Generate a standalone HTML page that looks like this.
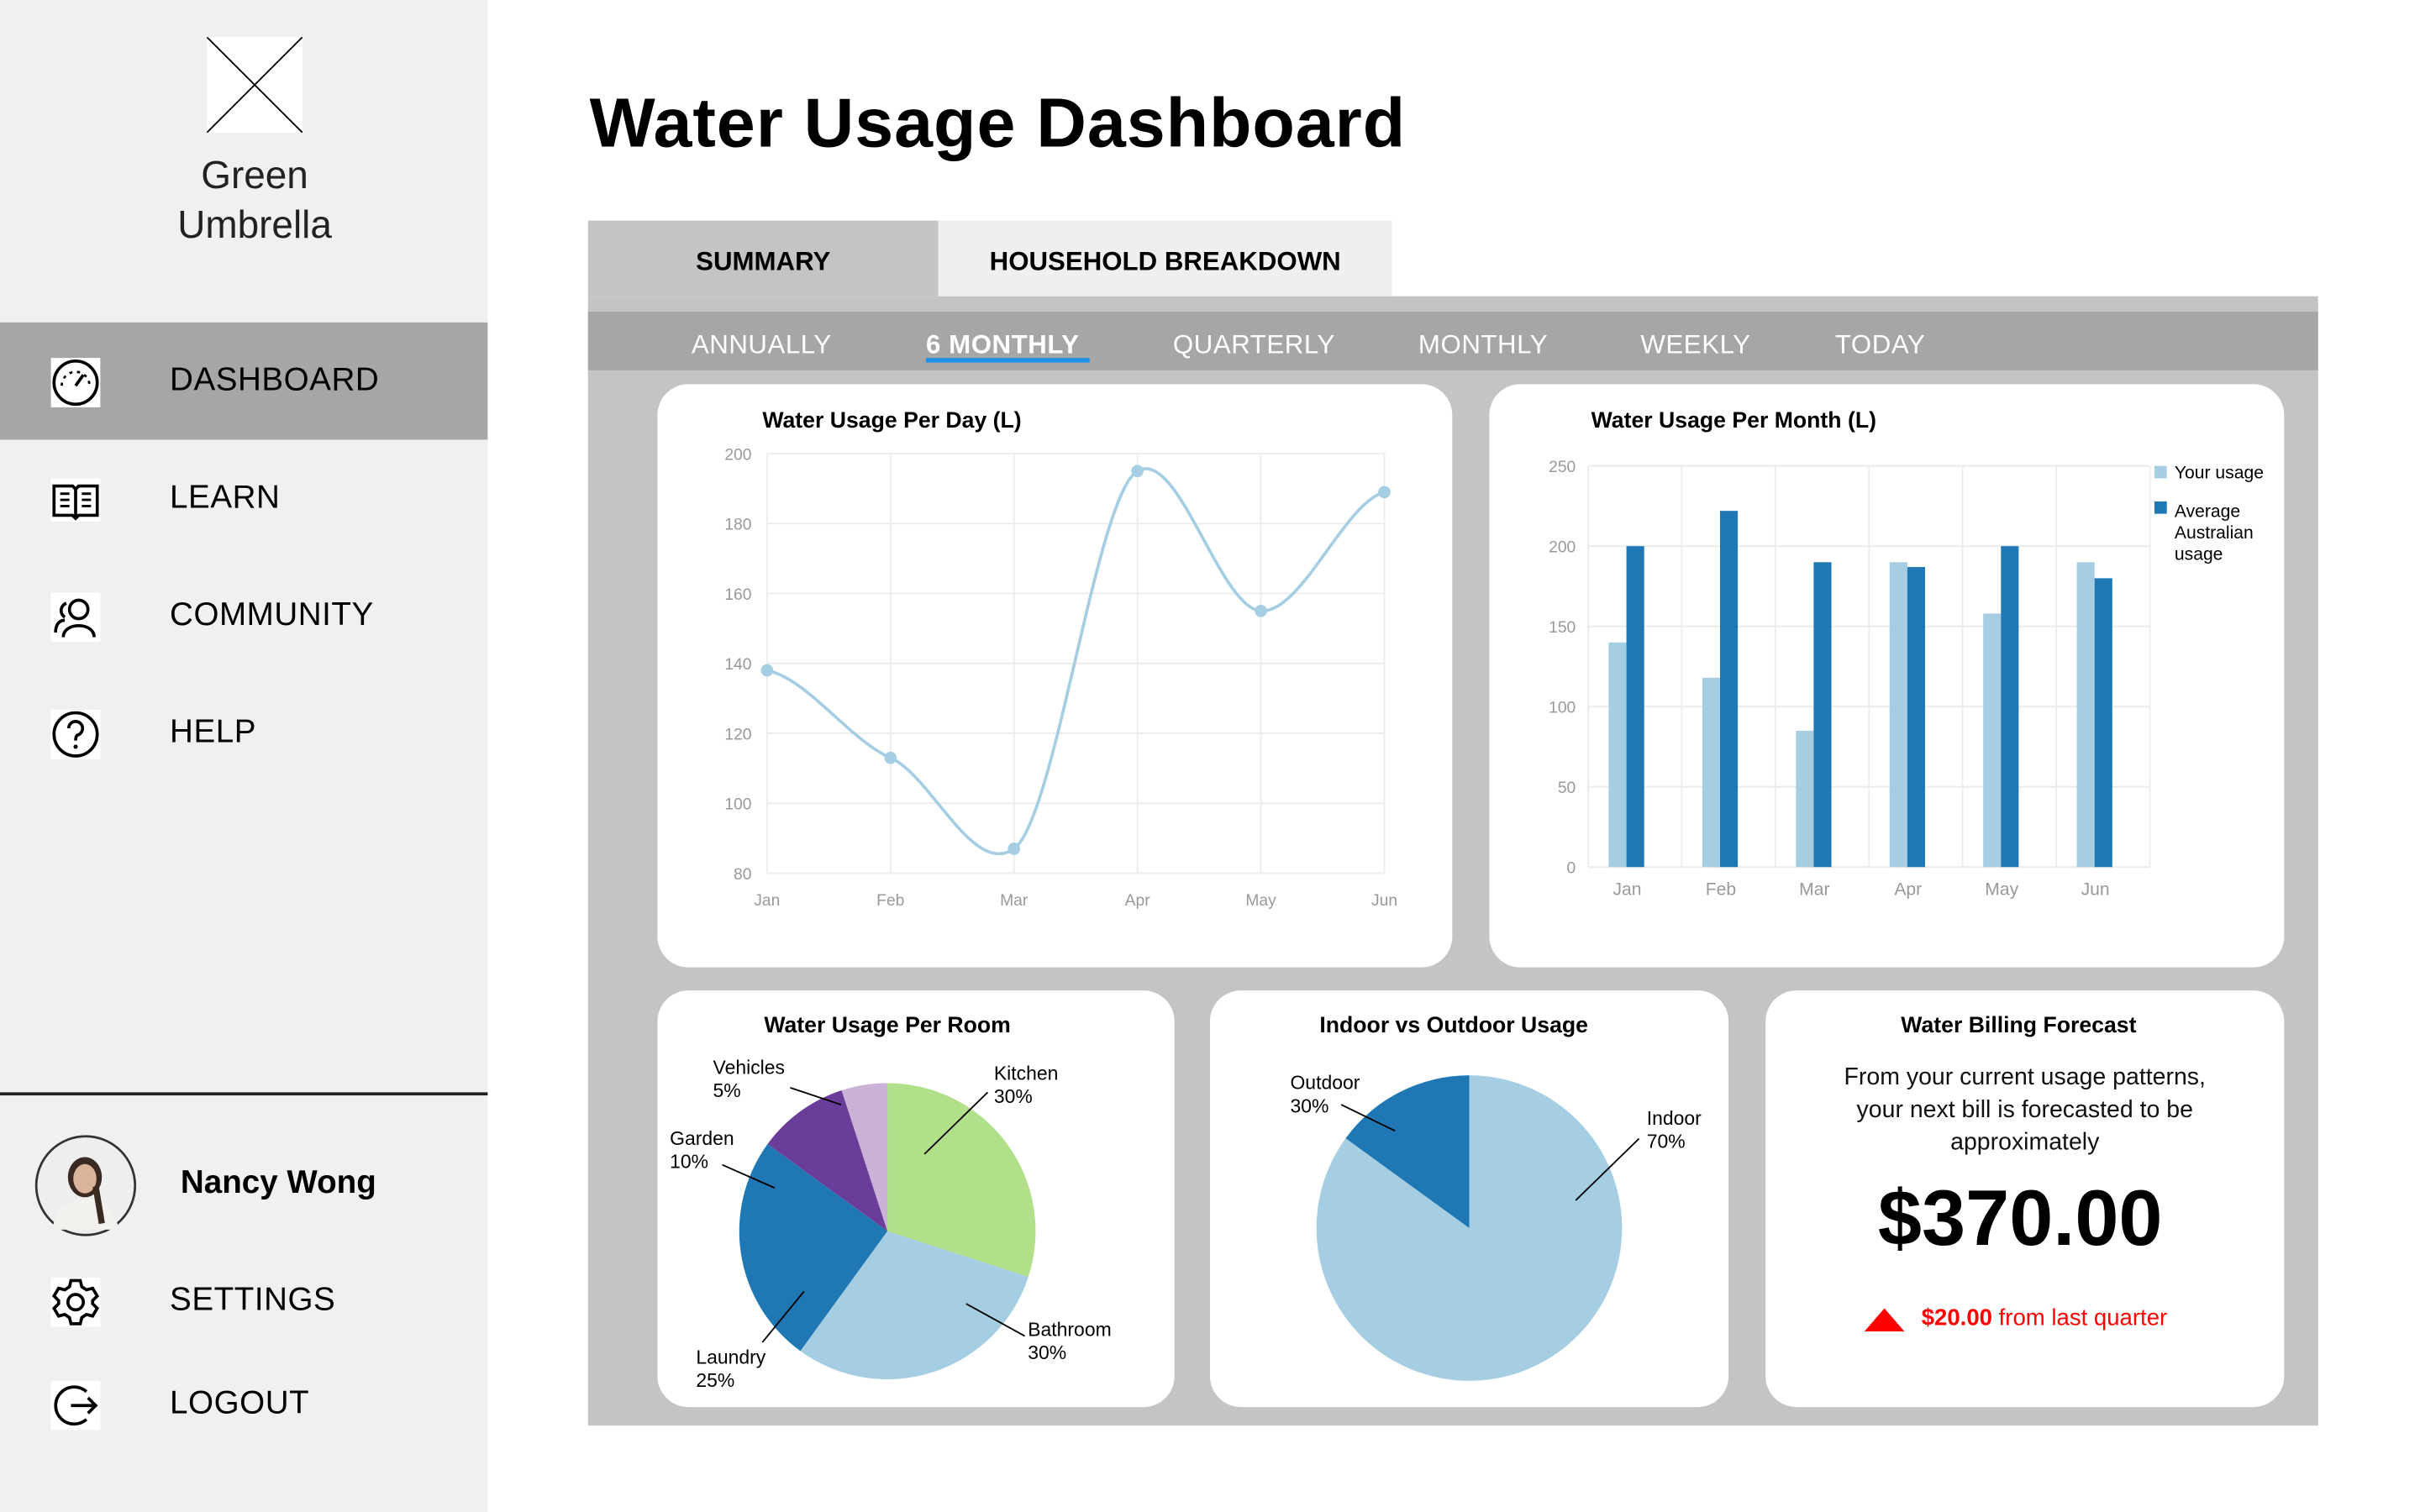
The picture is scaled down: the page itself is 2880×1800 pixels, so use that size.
<!DOCTYPE html>
<html><head><meta charset="utf-8">
<style>
html,body{margin:0;padding:0;width:2880px;height:1800px;overflow:hidden;background:#fff;}
#root{position:absolute;left:0;top:0;width:1568px;height:980px;transform:scale(1.8367);transform-origin:0 0;font-family:"Liberation Sans",sans-serif;color:#000;}
.abs{position:absolute;}
.nav{position:absolute;left:0;width:316px;height:76px;}
.nav span{position:absolute;left:110px;top:50%;transform:translateY(-50%);font-size:21px;letter-spacing:0.3px;}
.nav svg{position:absolute;left:32px;top:22px;}
.card{position:absolute;background:#fff;border-radius:20px;}
.ctitle{position:absolute;font-weight:bold;font-size:14.5px;white-space:nowrap;}
.sub{position:absolute;top:202px;height:38px;line-height:44px;color:#fff;font-size:17px;font-weight:bold;letter-spacing:0.3px;}
svg text{font-family:"Liberation Sans",sans-serif;}
</style></head><body>
<div id="root">
<div class="abs" style="left:0;top:0;width:316px;height:980px;background:#f0f0f0;"></div>
<svg class="abs" style="left:134px;top:24px" width="62" height="62"><rect width="62" height="62" fill="#fff"/><line x1="0" y1="0" x2="62" y2="62" stroke="#000"/><line x1="62" y1="0" x2="0" y2="62" stroke="#000"/></svg>
<div class="abs" style="left:60px;top:98px;width:210px;text-align:center;font-size:25px;line-height:32px;color:#222;">Green<br>Umbrella</div>

<div class="nav" style="top:209px;background:#a6a6a6;"><svg width="34" height="34" viewBox="0 0 34 34"><rect x="1" y="1" width="32" height="32" fill="#fff"/><circle cx="17" cy="17" r="14" fill="none" stroke="#000" stroke-width="2"/><line x1="17" y1="19" x2="22" y2="12" stroke="#000" stroke-width="2"/><path d="M8 19 A9 9 0 0 1 26 19" fill="none" stroke="#000" stroke-width="1.5" stroke-dasharray="2 3"/></svg><span>DASHBOARD</span></div>
<div class="nav" style="top:285px;"><svg width="34" height="34" viewBox="0 0 34 34"><rect x="1" y="3" width="32" height="28" fill="#fff"/><path d="M3 8 H15 L17 10 L19 8 H31 V27 H19 L17 29 L15 27 H3 Z" fill="none" stroke="#000" stroke-width="2"/><line x1="17" y1="10" x2="17" y2="28" stroke="#000" stroke-width="2"/><path d="M7 13h6M7 17h6M7 21h6M21 13h6M21 17h6M21 21h6" stroke="#000" stroke-width="1.6"/></svg><span>LEARN</span></div>
<div class="nav" style="top:361px;"><svg width="34" height="34" viewBox="0 0 34 34"><rect x="1" y="1" width="32" height="32" fill="#fff"/><circle cx="19" cy="12" r="6" fill="none" stroke="#000" stroke-width="2"/><path d="M9 30 C9 20 29 20 29 30" fill="none" stroke="#000" stroke-width="2"/><path d="M11 8 A5 5 0 0 0 10 17 M4 27 C4 21 7 19 10 19" fill="none" stroke="#000" stroke-width="2"/></svg><span>COMMUNITY</span></div>
<div class="nav" style="top:437px;"><svg width="34" height="34" viewBox="0 0 34 34"><rect x="1" y="1" width="32" height="32" fill="#fff"/><circle cx="17" cy="17" r="14" fill="none" stroke="#000" stroke-width="2"/><path d="M12.5 13 A4.5 4.5 0 1 1 18 17.5 Q17 18.5 17 21" fill="none" stroke="#000" stroke-width="2"/><circle cx="17" cy="25" r="1.4"/></svg><span>HELP</span></div>

<div class="abs" style="left:0;top:708px;width:316px;height:1.5px;background:#222;"></div>
<svg class="abs" style="left:22px;top:735px" width="67" height="67"><circle cx="33.5" cy="33.5" r="32" fill="#eee" stroke="#333" stroke-width="1.5"/><ellipse cx="33" cy="28" rx="11" ry="13" fill="#3a2a22"/><ellipse cx="33" cy="29" rx="7.5" ry="9.5" fill="#d9b49a"/><path d="M12 62 C14 46 24 42 33 42 C42 42 52 46 55 62 Z" fill="#f3f1ee"/><path d="M40 34 L44 58" stroke="#3a2a22" stroke-width="4"/></svg>
<div class="abs" style="left:117px;top:755px;font-size:21px;font-weight:bold;">Nancy Wong</div>
<div class="nav" style="top:805px;"><svg width="34" height="34" viewBox="0 0 34 34"><rect x="1" y="1" width="32" height="32" fill="#fff"/><path d="M14 3h6l1 4 3 2 4-1 3 5-3 3v2l3 3-3 5-4-1-3 2-1 4h-6l-1-4-3-2-4 1-3-5 3-3v-2l-3-3 3-5 4 1 3-2z" fill="none" stroke="#000" stroke-width="2"/><circle cx="17" cy="17" r="5" fill="none" stroke="#000" stroke-width="2"/></svg><span>SETTINGS</span></div>
<div class="nav" style="top:872px;"><svg width="34" height="34" viewBox="0 0 34 34"><rect x="1" y="1" width="32" height="32" fill="#fff"/><path d="M24 8 A12 12 0 1 0 24 26" fill="none" stroke="#000" stroke-width="2"/><path d="M14 17 H30 M25 12 L30 17 L25 22" fill="none" stroke="#000" stroke-width="2"/></svg><span>LOGOUT</span></div>

<div class="abs" style="left:382px;top:54px;font-size:45px;font-weight:bold;letter-spacing:0.5px;white-space:nowrap;">Water Usage Dashboard</div>
<div class="abs" style="left:381px;top:192px;width:1121px;height:732px;background:#c4c4c4;"></div>
<div class="abs" style="left:381px;top:143px;width:227px;height:49px;background:#c4c4c4;text-align:center;line-height:54px;font-weight:bold;font-size:17px;">SUMMARY</div>
<div class="abs" style="left:608px;top:143px;width:294px;height:49px;background:#efefef;text-align:center;line-height:54px;font-weight:bold;font-size:17px;">HOUSEHOLD BREAKDOWN</div>
<div class="abs" style="left:381px;top:202px;width:1121px;height:38px;background:#a6a6a6;"></div>
<div class="sub" style="left:448px;font-weight:normal;">ANNUALLY</div>
<div class="sub" style="left:600px;">6 MONTHLY</div>
<div class="abs" style="left:600px;top:232px;width:106px;height:3px;background:#1e90e8;"></div>
<div class="sub" style="left:760px;font-weight:normal;">QUARTERLY</div>
<div class="sub" style="left:919px;font-weight:normal;">MONTHLY</div>
<div class="sub" style="left:1063px;font-weight:normal;">WEEKLY</div>
<div class="sub" style="left:1189px;font-weight:normal;">TODAY</div>

<div class="card" style="left:426px;top:249px;width:515px;height:378px;"></div>
<div class="card" style="left:965px;top:249px;width:515px;height:378px;"></div>
<div class="card" style="left:426px;top:642px;width:335px;height:270px;"></div>
<div class="card" style="left:784px;top:642px;width:336px;height:270px;"></div>
<div class="card" style="left:1144px;top:642px;width:336px;height:270px;"></div>

<div class="ctitle" style="left:494px;top:265px;">Water Usage Per Day (L)</div>
<div class="ctitle" style="left:1031px;top:265px;">Water Usage Per Month (L)</div>
<div class="ctitle" style="left:426px;width:298px;text-align:center;top:657px;">Water Usage Per Room</div>
<div class="ctitle" style="left:784px;width:316px;text-align:center;top:657px;">Indoor vs Outdoor Usage</div>
<div class="ctitle" style="left:1144px;width:328px;text-align:center;top:657px;">Water Billing Forecast</div>
<div class="abs" style="left:1144px;width:336px;text-align:center;top:688px;font-size:15.5px;line-height:21px;color:#111;">From your current usage patterns,<br>your next bill is forecasted to be<br>approximately</div>
<div class="abs" style="left:1144px;width:330px;text-align:center;top:760px;font-size:51px;font-weight:bold;">$370.00</div>
<svg class="abs" style="left:1208px;top:848px" width="26" height="15"><polygon points="13,0 26,15 0,15" fill="#f00"/></svg>
<div class="abs" style="left:1245px;top:846px;font-size:15px;color:#f00;white-space:nowrap;"><b>$20.00</b> from last quarter</div>

<svg id="charts" class="abs" style="left:0;top:0" width="1568" height="980"></svg>
</div>
<script>
const months = ["Jan","Feb","Mar","Apr","May","Jun"];
const dailyUsage = [138,113,87,195,155,189];
const dailyTicks = [80,100,120,140,160,180,200];
const yourMonthly = [140,118,85,190,158,190];
const avgMonthly = [200,222,190,187,200,180];
const monthlyTicks = [0,50,100,150,200,250];
const roomNames = ["Kitchen","Bathroom","Laundry","Garden","Vehicles"];
const roomShares = [30,30,25,10,5];
const roomLabels = ["30%","30%","25%","10%","5%"];
const ioNames = ["Indoor","Outdoor"];
const ioShares = [85,15];
const ioLabels = ["70%","30%"];

const NS="http://www.w3.org/2000/svg";
const svg=document.getElementById('charts');
function mk(tag,attrs,parent){const e=document.createElementNS(NS,tag);for(const k in attrs)e.setAttribute(k,attrs[k]);(parent||svg).appendChild(e);return e;}
function txt(x,y,s,attrs){const t=mk('text',Object.assign({x:x,y:y},attrs||{}));t.textContent=s;return t;}

(function(){
  const g=mk('g',{});
  
  
  const x0=497,x1=897,yTop=294,yBot=566,vmin=80,vmax=200;
  const xs=i=>x0+(x1-x0)*i/(months.length-1);
  const ys=v=>yBot-(v-vmin)/(vmax-vmin)*(yBot-yTop);
  dailyTicks.forEach(t=>{
    const l=mk('line',{x1:x0,x2:x1,y1:ys(t),y2:ys(t),stroke:'#ececec','stroke-width':1},g);
    
    
    const tl=txt(487,ys(t)+4,String(t),{'font-size':10.5,fill:'#999','text-anchor':'end'});
    g.appendChild(tl);
    
    
  });
  months.forEach((m,i)=>{
    const l=mk('line',{x1:xs(i),x2:xs(i),y1:yTop,y2:yBot,stroke:'#ececec','stroke-width':1},g);
    
    
    const tl=txt(xs(i),587,m,{'font-size':10.5,fill:'#999','text-anchor':'middle'});
    g.appendChild(tl);
    
    
  });
  const P=dailyUsage.map((v,i)=>[xs(i),ys(v)]);
  const k=1/10;
  let d='M'+P[0][0]+','+P[0][1];
  for(let i=0;i<P.length-1;i++){
    const p0=P[Math.max(0,i-1)],p1=P[i],p2=P[i+1],p3=P[Math.min(P.length-1,i+2)];
    const c1=[p1[0]+(p2[0]-p1[0])/3,p1[1]+(p2[1]-p0[1])*k];
    const c2=[p2[0]-(p2[0]-p1[0])/3,p2[1]-(p3[1]-p1[1])*k];
    d+=' C'+c1+' '+c2+' '+p2;
  }
  const path=mk('path',{d:d,fill:'none',stroke:'#a6cee3','stroke-width':2},g);
  
  
  P.forEach(p=>{
    const c=mk('circle',{cx:p[0],cy:p[1],r:4,fill:'#a6cee3'},g);
    
    
  });
})();

(function(){
  const g=mk('g',{});
  
  
  const x0=1029,x1=1393,yTop=302,yBot=562,vmax=250;
  const bw=(x1-x0)/months.length;
  const ys=v=>yBot-v/vmax*(yBot-yTop);
  monthlyTicks.forEach(t=>{
    const l=mk('line',{x1:x0,x2:x1,y1:ys(t),y2:ys(t),stroke:'#ececec','stroke-width':1.2},g);
    
    
    const tl=txt(1021,ys(t)+4,String(t),{'font-size':10.5,fill:'#999','text-anchor':'end'});
    g.appendChild(tl);
    
    
  });
  for(let i=0;i<=months.length;i++){
    const l=mk('line',{x1:x0+bw*i,x2:x0+bw*i,y1:yTop,y2:yBot,stroke:'#ececec','stroke-width':1},g);
    
    
  }
  months.forEach((m,i)=>{
    const c=x0+bw*i+bw/2;
    const r1=mk('rect',{x:c-17,y:ys(yourMonthly[i]),width:11.5,height:yBot-ys(yourMonthly[i]),fill:'#a6cee3'},g);
    
    
    const r2=mk('rect',{x:c-5.5,y:ys(avgMonthly[i]),width:11.5,height:yBot-ys(avgMonthly[i]),fill:'#1f78b4'},g);
    
    
    const tl=txt(c-5,580,m,{'font-size':11.5,fill:'#999','text-anchor':'middle'});
    g.appendChild(tl);
    
    
  });
  const lg=mk('g',{},g);
  
  
  mk('rect',{x:1396,y:302,width:8,height:8,fill:'#a6cee3'},lg);
  lg.appendChild(txt(1409,310,'Your usage',{'font-size':11.5}));
  mk('rect',{x:1396,y:325,width:8,height:8,fill:'#1f78b4'},lg);
  lg.appendChild(txt(1409,335,'Average',{'font-size':11.5}));
  lg.appendChild(txt(1409,349,'Australian',{'font-size':11.5}));
  lg.appendChild(txt(1409,363,'usage',{'font-size':11.5}));
})();

function pie(cx,cy,r,vals,colors,name,dir){
  const g=mk('g',{});
  
  
  const tot=vals.reduce((a,b)=>a+b,0);
  let a=0;
  vals.forEach((v,i)=>{
    const a2=a+v/tot*2*Math.PI;
    const p=t=>[cx+dir*r*Math.sin(t),cy-r*Math.cos(t)];
    const s=p(a),e=p(a2);
    const large=(a2-a)>Math.PI?1:0;
    const path=mk('path',{d:`M${cx},${cy} L${s} A${r},${r} 0 ${large} ${dir>0?1:0} ${e} Z`,fill:colors[i]},g);
    
    
    a=a2;
  });
  return g;
}
pie(575,798,96,roomShares,['#b2df8a','#a6cee3','#1f78b4','#6a3d9a','#cab2d6'],'room-pie-chart',1);
pie(952,796,99,ioShares,['#a6cee3','#1f78b4'],'indoor-outdoor-pie-chart',1);

function label(lines,x,y,lx1,ly1,lx2,ly2,name){
  const g=mk('g',{});
  
  
  lines.forEach((s,i)=>g.appendChild(txt(x,y+i*15,s,{'font-size':12.5})));
  mk('line',{x1:lx1,y1:ly1,x2:lx2,y2:ly2,stroke:'#000','stroke-width':1},g);
}
label([roomNames[0],roomLabels[0]],644,700,640,708,599,748,'kitchen-label');
label([roomNames[1],roomLabels[1]],666,866,664,866,626,845,'bathroom-label');
label([roomNames[2],roomLabels[2]],451,884,494,870,521,837,'laundry-label');
label([roomNames[3],roomLabels[3]],434,742,468,755,502,770,'garden-label');
label([roomNames[4],roomLabels[4]],462,696,512,705,545,716,'vehicles-label');
label([ioNames[1],ioLabels[1]],836,706,869,716,904,733,'outdoor-label');
label([ioNames[0],ioLabels[0]],1067,729,1062,738,1021,778,'indoor-label');
</script>
</body></html>
